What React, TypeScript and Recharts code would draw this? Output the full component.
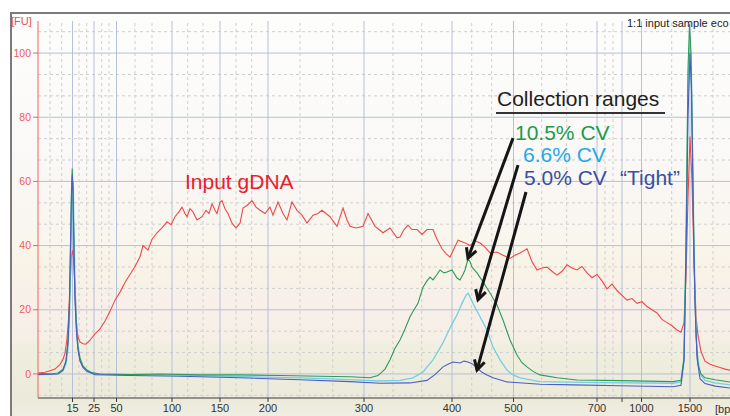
import React from 'react';
import { LineChart, Line, XAxis, YAxis, ReferenceLine } from 'recharts';

const W = 730;
const H = 416;
const FONT = '"Liberation Sans", Arial, sans-serif';

// x axis is migration time (s); ticks are labelled in bp
const tickTimes = [23.45, 25.6, 27.85, 33.4, 38.2, 43.0, 52.6, 61.4, 67.55, 75.9, 78.4, 80.35, 85.2];
const tickLabels = ['15', '25', '50', '100', '150', '200', '300', '400', '500', '700', '', '1000', '1500'];
const minorTimes = [21.2, 22.37, 24.1, 24.87, 26.37, 27.1, 29.7, 31.4, 34.97, 36.5, 39.8, 41.37, 46.2, 49.47, 55.5, 58.37, 63.37, 65.37, 70.37, 72.87, 76.7, 77.5, 83.37, 87.5];
const fuTicks = [0, 20, 40, 60, 80, 100];
const fuMinor = [-6.67, 6.67, 13.33, 26.67, 33.33, 46.67, 53.33, 66.67, 73.33, 86.67, 93.33, 106.67];

// Input gDNA
const redTime = [20.0, 20.7, 21.2, 21.7, 22.2, 22.5, 22.7, 22.9, 23.05, 23.2, 23.35, 23.45, 23.55, 23.7, 23.85, 24.0, 24.2, 24.5, 24.8, 25.2, 25.7, 26.2, 26.7, 27.2, 27.7, 28.2, 28.7, 29.2, 29.7, 30.2, 30.5, 31.0, 31.4, 31.9, 32.4, 32.9, 33.3, 33.7, 34.1, 34.4, 34.7, 34.9, 35.2, 35.5, 35.9, 36.4, 36.8, 37.1, 37.4, 37.7, 37.9, 38.2, 38.4, 38.7, 39.0, 39.4, 39.8, 40.2, 40.5, 40.9, 41.4, 41.8, 42.2, 42.7, 43.2, 43.5, 44.0, 44.5, 44.9, 45.4, 45.9, 46.4, 46.9, 47.5, 48.0, 48.4, 48.8, 49.2, 49.9, 50.5, 50.9, 51.2, 51.8, 52.5, 53.0, 53.7, 54.1, 54.5, 55.2, 55.9, 56.2, 56.6, 57.0, 57.4, 57.9, 58.4, 58.9, 59.5, 59.9, 60.4, 60.8, 61.2, 61.6, 62.0, 62.6, 63.2, 63.7, 64.2, 64.7, 65.2, 65.9, 66.5, 67.2, 67.7, 68.2, 68.9, 69.4, 69.9, 70.4, 70.9, 71.4, 71.9, 72.4, 72.9, 73.4, 73.9, 74.4, 74.9, 75.4, 75.9, 76.4, 76.9, 77.4, 77.9, 78.4, 78.9, 79.4, 79.9, 80.4, 80.9, 81.4, 81.9, 82.4, 82.9, 83.4, 83.9, 84.3, 84.6, 84.8, 85.0, 85.2, 85.4, 85.6, 85.8, 86.0, 86.3, 86.7, 87.2, 87.7, 88.2, 88.7, 89.2];
const redFU = [0.3, 0.5, 1.0, 1.5, 3.0, 4.5, 6.5, 11, 17, 28, 37, 38.5, 36, 27, 16, 11.5, 10, 9.4, 9.3, 10.5, 12.5, 14, 16.5, 19.5, 23, 25.5, 28.5, 31, 33.5, 36.5, 40, 38.6, 42, 44, 45.5, 47.4, 46.5, 49, 50.5, 52, 50, 49, 51.5, 50.5, 48, 49, 51, 50, 53, 51, 50, 53.5, 54, 51.5, 50, 47, 45.5, 47, 51.7, 52.5, 54, 52, 51, 50, 52, 49.5, 53.6, 50, 48, 53.6, 51, 49.5, 47, 49.5, 50, 51, 50, 49, 46, 51.7, 48, 46, 45.5, 46, 50, 46, 45, 44, 45.5, 42.4, 42.7, 45, 46.4, 45, 45, 43.5, 45, 45, 42, 39, 37.5, 36.4, 39, 41.7, 41, 40, 41.5, 40.8, 39.5, 37.7, 38, 37, 36, 37, 37.7, 39, 35, 32.4, 33, 33.3, 32, 30.8, 32, 34, 33, 32.4, 33.5, 31.5, 30, 31, 29, 26.5, 28, 26, 24.5, 23, 23.5, 22, 22.5, 21, 20, 19, 17, 16, 15, 13.7, 13, 16, 30, 55, 74, 60, 35, 18, 12, 7, 4, 3, 2.5, 2, 1.5, 1.2];

// 10.5% CV
const greenTime = [20.0, 21.2, 22.0, 22.5, 22.8, 23.0, 23.15, 23.25, 23.35, 23.42, 23.5, 23.6, 23.7, 23.85, 24.0, 24.2, 24.5, 24.9, 25.4, 26.2, 29.2, 32.2, 36.2, 40.2, 44.2, 48.2, 51.2, 53.2, 54.0, 54.7, 55.2, 55.7, 56.2, 56.7, 57.2, 57.6, 58.0, 58.5, 58.9, 59.2, 59.5, 59.9, 60.2, 60.6, 60.9, 61.4, 61.9, 62.2, 62.5, 62.7, 63.0, 63.2, 63.4, 63.9, 64.5, 65.2, 65.9, 66.5, 67.2, 67.9, 68.4, 68.9, 69.5, 70.2, 71.9, 73.9, 78.2, 83.5, 84.3, 84.6, 84.8, 85.0, 85.15, 85.3, 85.45, 85.6, 85.8, 86.0, 86.3, 86.7, 87.7, 89.2];
const greenFU = [0.2, 0.0, 0.3, 1.5, 4, 10, 22, 40, 58, 64, 58, 38, 24, 14, 8.5, 5, 2.5, 1.2, 0.4, 0.0, -0.2, 0.0, -0.3, -0.3, -0.5, -0.7, -0.9, -1.2, -0.5, 1.5, 4.4, 8, 10.6, 14, 17.8, 20, 22, 27, 29, 30.2, 29.3, 31, 32.4, 31.5, 31.8, 32.4, 29.9, 29.3, 31, 32.4, 35.8, 35, 33.3, 31.5, 28.7, 25.2, 21.5, 16.8, 10.6, 5.9, 3.5, 2.2, 0.8, -0.3, -1.2, -1.9, -2.1, -2.4, -2.0, 5, 40, 95, 109, 100, 70, 35, 12, 3, 0, -1.2, -1.8, -2.5];

// 6.6% CV
const cyanTime = [20.0, 22.0, 22.5, 22.8, 23.0, 23.15, 23.3, 23.45, 23.52, 23.6, 23.7, 23.85, 24.0, 24.2, 24.5, 24.9, 25.7, 29.2, 34.2, 40.2, 46.2, 51.2, 54.2, 56.2, 57.5, 58.5, 59.5, 60.5, 61.2, 61.9, 62.4, 62.8, 63.0, 63.2, 63.5, 64.2, 64.9, 65.5, 66.2, 66.9, 67.5, 68.2, 70.2, 76.2, 83.5, 84.3, 84.6, 84.8, 85.0, 85.2, 85.35, 85.5, 85.7, 85.9, 86.2, 86.7, 87.7, 89.2];
const cyanFU = [0.0, 0.1, 1.0, 3, 8, 18, 38, 58, 60, 45, 28, 15, 8, 4.5, 2, 0.8, 0, -0.3, -0.4, -0.8, -1.2, -1.8, -2.2, -2.0, -1.2, 0.6, 4.4, 9.7, 14.3, 18.4, 22, 24.5, 25.2, 24, 22, 17.8, 13.7, 8.4, 4.4, 1.2, -0.3, -1.2, -2.4, -2.7, -2.9, -2.5, 5, 40, 90, 105, 92, 60, 25, 7, 0, -2.0, -2.8, -3.4];

// 5.0% CV "Tight"
const blueTime = [20.0, 22.0, 22.5, 22.8, 23.0, 23.15, 23.25, 23.35, 23.43, 23.5, 23.6, 23.7, 23.85, 24.0, 24.2, 24.5, 24.9, 25.7, 29.2, 34.2, 40.2, 46.2, 51.2, 54.2, 57.2, 58.9, 59.7, 60.5, 61.0, 61.5, 62.2, 62.6, 63.0, 63.4, 63.9, 64.4, 64.9, 65.5, 66.9, 70.2, 73.5, 78.2, 83.5, 84.3, 84.6, 84.8, 85.0, 85.2, 85.35, 85.5, 85.7, 85.9, 86.2, 86.7, 87.7, 89.2];
const blueFU = [-0.2, 0.0, 1.2, 4, 10, 22, 40, 56, 62, 57, 38, 23, 13, 7.5, 4, 2, 0.8, -0.2, -0.5, -0.7, -1.2, -1.8, -2.4, -2.9, -2.8, -2.0, -0.2, 2.2, 3.0, 3.7, 3.4, 4.0, 3.7, 3.2, 1.9, 0.5, -0.3, -1.2, -2.5, -3.2, -3.4, -3.7, -4.0, -3.5, 4, 35, 80, 100, 88, 55, 22, 5, -1.5, -3.0, -3.8, -4.4];

// arrows: [startTime, startFU, tipTime, tipFU]
const arrows = [
  [67.5, 73.5, 63.0, 36.1],
  [68.0, 65.1, 64.0, 23.1],
  [68.8, 56.7, 63.9, 1.2],
];

const zip = (t: number[], v: number[]) => t.map((x, i) => ({ t: x, fu: v[i] }));

function Arrow(props: any) {
  const { x1, y1, x2, y2 } = props;
  const a = Math.atan2(y2 - y1, x2 - x1);
  const L = 11;
  const s = 0.5;
  const ax = x2 - L * Math.cos(a - s);
  const ay = y2 - L * Math.sin(a - s);
  const bx = x2 - L * Math.cos(a + s);
  const by = y2 - L * Math.sin(a + s);
  return (
    <g>
      <line x1={x1} y1={y1} x2={x2} y2={y2} stroke="#151515" strokeWidth={3} />
      <polyline points={`${ax},${ay} ${x2},${y2} ${bx},${by}`} fill="none" stroke="#151515" strokeWidth={3} strokeLinejoin="miter" />
    </g>
  );
}

const txt = (left: number, top: number, size: number, color: string, s: string) => (
  <div style={{ position: 'absolute', left, top, fontSize: size, lineHeight: 1, color, fontFamily: FONT, whiteSpace: 'pre' }}>{s}</div>
);

export default function App() {
  return (
    <div style={{ position: 'absolute', left: 0, top: 0, width: W, height: H, overflow: 'hidden', background: '#fff' }}>
      <div
        style={{
          position: 'absolute', left: 10, top: 12, right: 0, bottom: 0,
          borderTop: '2px solid #7b7b7b', borderLeft: '2px solid #7b7b7b',
          background: 'linear-gradient(to bottom, #fdfdfc 0%, #faf9f7 34%, #f9f6f3 45%, #f9f6ee 56%, #f8f3e6 63%, #f7efe9 72%, #f6efe6 81%, #efeedf 83%, #eceada 96%, #efede1 100%)',
        }}
      />
      <div style={{ position: 'absolute', left: 0, top: 0 }}>
        <LineChart width={W} height={H} margin={{ top: 21, right: 0, bottom: 0, left: 0 }}>
          <XAxis
            type="number"
            dataKey="t"
            domain={[20, 89.2]}
            allowDataOverflow
            ticks={tickTimes}
            interval={0}
            tickFormatter={(v: number) => tickLabels[tickTimes.indexOf(v)] ?? ''}
            height={18}
            tickSize={4}
            axisLine={{ stroke: '#3a3a3a' }}
            tickLine={{ stroke: '#3a3a3a' }}
            tick={{ fill: '#333', fontSize: 11, fontFamily: FONT }}
          />
          <YAxis
            type="number"
            domain={[-7.5, 110]}
            allowDataOverflow
            ticks={fuTicks}
            interval={0}
            width={38}
            tickSize={5}
            axisLine={{ stroke: '#f26262' }}
            tickLine={{ stroke: '#f26262' }}
            tick={{ fill: '#f25a5a', fontSize: 10.5, fontFamily: FONT }}
          />
          {minorTimes.map((v) => (
            <ReferenceLine key={`mx${v}`} x={v} stroke="#cfcfcf" strokeDasharray="3 3" />
          ))}
          {fuMinor.map((v) => (
            <ReferenceLine key={`my${v}`} y={v} stroke="#cfcfcf" strokeDasharray="3 3" />
          ))}
          {tickTimes.map((v) => (
            <ReferenceLine key={`gx${v}`} x={v} stroke="#b6c0d8" />
          ))}
          {fuTicks.map((v) => (
            <ReferenceLine key={`gy${v}`} y={v} stroke="#b6c0d8" />
          ))}
          <Line data={zip(redTime, redFU)} dataKey="fu" type="linear" stroke="#f04848" strokeWidth={1.1} dot={false} isAnimationActive={false} />
          <Line data={zip(cyanTime, cyanFU)} dataKey="fu" type="linear" stroke="#74cfe2" strokeWidth={1.3} dot={false} isAnimationActive={false} />
          <Line data={zip(greenTime, greenFU)} dataKey="fu" type="linear" stroke="#2e9a5a" strokeWidth={1.1} dot={false} isAnimationActive={false} />
          <Line data={zip(blueTime, blueFU)} dataKey="fu" type="linear" stroke="#4a5ec4" strokeWidth={1.1} dot={false} isAnimationActive={false} />
          {arrows.map((a, i) => (
            <ReferenceLine
              key={`ar${i}`}
              segment={[{ x: a[0], y: a[1] }, { x: a[2], y: a[3] }]}
              ifOverflow="visible"
              shape={(p: any) => <Arrow {...p} />}
            />
          ))}
        </LineChart>
      </div>
      {txt(11, 16, 11, '#f05050', '[FU]')}
      {txt(627, 18, 11, '#222', '1:1 input sample eco')}
      {txt(715, 404, 11, '#333', '[bp]')}
      {txt(185, 171, 21, '#e8202e', 'Input gDNA')}
      {txt(497, 88, 21, '#1e1e1e', 'Collection ranges')}
      <div style={{ position: 'absolute', left: 496, top: 112, width: 169, height: 2, background: '#333' }} />
      {txt(515, 122, 21, '#1e9a4a', '10.5% CV')}
      {txt(523, 144, 21, '#1fa9e6', '6.6% CV')}
      {txt(524, 167, 21, '#3a4ea2', '5.0% CV')}
      {txt(620, 167, 21, '#3a4ea2', '\u201cTight\u201d')}
    </div>
  );
}
